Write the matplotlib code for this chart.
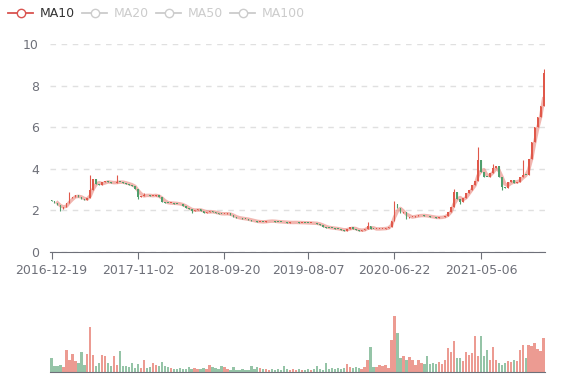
import matplotlib.pyplot as plt
from matplotlib.lines import Line2D
import numpy as np
import pandas as pd

# one point every ~3 trading sessions, 2016-12-19 .. early 2022
closes = [2.46, 2.35, 2.28, 2.05, 2.18, 2.36, 2.6, 2.62, 2.74, 2.66,
          2.55, 2.5, 2.6, 3.0, 3.5, 3.28, 3.22, 3.35, 3.4, 3.36,
          3.3, 3.34, 3.38, 3.36, 3.33, 3.28, 3.24, 3.18, 3.05, 2.65,
          2.7, 2.74, 2.72, 2.7, 2.7, 2.76, 2.62, 2.42, 2.36, 2.35,
          2.35, 2.33, 2.32, 2.3, 2.22, 2.12, 2.05, 1.97, 2.02, 2.06,
          1.98, 1.89, 1.93, 1.95, 1.92, 1.86, 1.84, 1.82, 1.84, 1.86,
          1.76, 1.68, 1.64, 1.62, 1.6, 1.58, 1.55, 1.5, 1.47, 1.45,
          1.45, 1.44, 1.48, 1.5, 1.47, 1.46, 1.45, 1.44, 1.43, 1.41,
          1.42, 1.42, 1.42, 1.41, 1.41, 1.4, 1.39, 1.39, 1.38, 1.36,
          1.3, 1.22, 1.17, 1.16, 1.15, 1.12, 1.1, 1.07, 1.03, 1.1,
          1.2, 1.12, 1.06, 1.02, 1.06, 1.1, 1.25, 1.12, 1.1, 1.1,
          1.12, 1.12, 1.13, 1.2, 1.5, 2.3, 2.1, 1.88, 1.92, 1.65,
          1.68, 1.7, 1.73, 1.76, 1.76, 1.74, 1.72, 1.68, 1.66, 1.65,
          1.66, 1.68, 1.74, 1.9, 2.15, 2.9, 2.55, 2.4, 2.6, 2.82,
          3.0, 3.2, 3.4, 4.4, 3.85, 3.62, 3.6, 3.8, 4.05, 4.15,
          3.6, 3.12, 3.1, 3.35, 3.45, 3.3, 3.35, 3.6, 3.72, 3.7,
          4.45, 5.3, 6.0, 6.5, 7.0, 8.6]
first_open = 2.5
spike_high = {6: 2.9, 13: 3.7, 22: 3.68, 31: 2.85, 106: 1.46, 115: 2.45,
              135: 3.05, 143: 5.05, 148: 4.25, 158: 4.4, 165: 8.8}
spike_low = {3: 1.95, 29: 2.55, 47: 1.88, 119: 1.58, 137: 2.3, 151: 3.0}

volumes = [14, 6, 6, 7, 5, 22, 12, 18, 11, 9,
           20, 7, 18, 45, 17, 6, 9, 17, 16, 9,
           6, 16, 7, 21, 6, 6, 5, 9, 4, 8,
           4, 12, 4, 5, 9, 7, 6, 10, 6, 5,
           4, 3, 3, 4, 3, 3, 5, 3, 4, 3,
           3, 4, 3, 7, 5, 4, 3, 6, 5, 3,
           2, 5, 2, 2, 3, 2, 2, 6, 3, 5,
           4, 3, 3, 2, 3, 2, 3, 2, 6, 3,
           2, 3, 2, 3, 2, 2, 3, 2, 3, 6,
           3, 2, 9, 3, 4, 3, 4, 3, 4, 8,
           5, 4, 5, 4, 3, 5, 12, 25, 5, 5,
           7, 6, 7, 4, 32, 56, 39, 14, 16, 12,
           15, 12, 7, 12, 9, 8, 16, 8, 9, 8,
           10, 8, 12, 24, 20, 31, 14, 14, 11, 20,
           17, 19, 36, 16, 36, 16, 22, 12, 25, 12,
           9, 7, 9, 11, 10, 12, 11, 22, 27, 14,
           27, 26, 29, 23, 21, 34]

tick_pos = [0, 29, 58, 86, 115, 144]
tick_labels = ["2016-12-19", "2017-11-02", "2018-09-20", "2019-08-07", "2020-06-22", "2021-05-06"]

up_col = '#e0584a'
down_col = '#4f9e6c'

c = np.array(closes)
o = np.concatenate([[first_open], c[:-1]])
hi = np.maximum(o, c)
lo = np.minimum(o, c)
for k, v in spike_high.items():
    hi[k] = max(hi[k], v)
for k, v in spike_low.items():
    lo[k] = min(lo[k], v)
x = np.arange(len(c))
up = c >= o
cols = np.where(up, up_col, down_col)
ma10 = pd.Series(c).rolling(3).mean()

fig = plt.figure(figsize=(5.77, 3.8), dpi=100)
ax = fig.add_axes([0.0867, 0.337, 0.858, 0.547])
vax = fig.add_axes([0.0867, 0.021, 0.858, 0.189])

ax.plot(x, ma10, color='#e8867c', lw=2.5, alpha=0.6, zorder=2)
ax.vlines(x, lo, hi, colors=cols, lw=0.8, zorder=3)
ax.bar(x, np.maximum(np.abs(c - o), 0.03), bottom=np.minimum(o, c),
       width=0.55, color=cols, zorder=3)

ax.set_xlim(-0.5, len(c) - 0.5)
ax.set_ylim(0, 10)
ax.set_yticks([0, 2, 4, 6, 8, 10])
ax.grid(axis='y', color='#e0e0e0', linestyle=(0, (4, 4)), lw=1)
ax.set_axisbelow(True)
for s in ['top', 'right', 'left']:
    ax.spines[s].set_visible(False)
ax.spines['bottom'].set_color('#6e7079')
ax.tick_params(axis='y', length=0, labelsize=9, labelcolor='#6e7079', pad=8)
ax.set_xticks(tick_pos)
ax.set_xticklabels(tick_labels)
ax.tick_params(axis='x', length=5, color='#6e7079', labelsize=9, labelcolor='#6e7079')

vax.bar(x, volumes, width=0.8, color=cols, alpha=0.6)
vax.set_xlim(-0.5, len(c) - 0.5)
vax.set_ylim(0, 72)
vax.set_xticks([])
vax.set_yticks([])
for s in ['top', 'right', 'left']:
    vax.spines[s].set_visible(False)
vax.spines['bottom'].set_color('#6e7079')

handles = [Line2D([], [], color='#d9534f', lw=1.3, marker='o', markersize=6, markerfacecolor='white')]
for _ in range(3):
    handles.append(Line2D([], [], color='#cccccc', lw=1.3, marker='o', markersize=6, markerfacecolor='white'))
fig.legend(handles, ['MA10', 'MA20', 'MA50', 'MA100'], loc='upper left', bbox_to_anchor=(-0.005, 1.01),
           ncol=4, frameon=False, fontsize=9, handlelength=2.0, columnspacing=0.6, handletextpad=0.5,
           labelcolor=['#333333', '#cccccc', '#cccccc', '#cccccc'])

plt.savefig("out.png")
